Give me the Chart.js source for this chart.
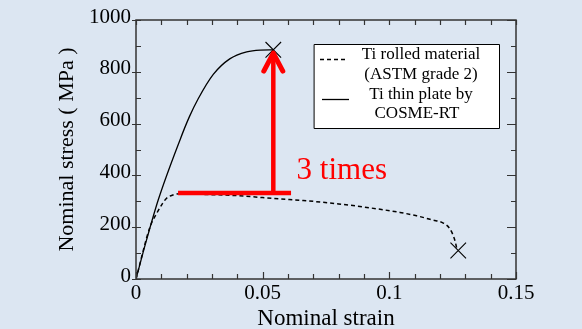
<!DOCTYPE html>
<html>
<head>
<meta charset="utf-8">
<script src="https://cdn.jsdelivr.net/npm/chart.js@4/dist/chart.umd.min.js"></script>
<style>
  html, body { margin: 0; padding: 0; background: #dce6f2; }
  #wrap { width: 582px; height: 329px; }
</style>
</head>
<body>
<div id="wrap"><canvas id="c" width="582" height="329"></canvas></div>
<script>
// ---- data ----
const rolledStrain = [0, 0.0055, 0.0082, 0.0105, 0.0121, 0.0145, 0.0174, 0.025, 0.0397, 0.0568, 0.066, 0.08, 0.095, 0.1042, 0.1108, 0.117, 0.1213, 0.124, 0.126, 0.1266];
const rolledStress = [0, 200, 254, 292, 312, 324, 329, 327, 322, 309, 303, 290, 271, 257, 244, 228, 216, 192, 145, 118];
const plateStrain = [0, 0.004, 0.0088, 0.0174, 0.021, 0.0245, 0.0305, 0.037, 0.0437, 0.049, 0.0542];
const plateStress = [0, 145, 306, 538, 625, 695, 790, 850, 877, 884, 885];
const fractureStrain = [0.0542, 0.1272];
const fractureStress = [885, 110];
const xTickValues = [0, 0.05, 0.1, 0.15];
const yTickValues = [0, 200, 400, 600, 800, 1000];
const legendLabels = [["Ti rolled material", "(ASTM grade 2)"], ["Ti thin plate by", "COSME-RT"]];
// annotation: "3 times" arrow
const baseStress = 332;
const baseStrainRange = [0.0166, 0.0612];
const arrowStrain = 0.0542;
const arrowTipStress = 880;
const noteText = "3 times";
const noteStrain = 0.0634;
const noteStress = 387;

const toXY = (xs, ys) => xs.map((x, i) => ({ x: x, y: ys[i] }));
const SERIF = "'Liberation Serif', 'Times New Roman', serif";

const framePlugin = {
  id: 'frame',
  afterDatasetsDraw(chart) {
    const ctx = chart.ctx;
    const a = chart.chartArea;
    const xs = chart.scales.x, ys = chart.scales.y;
    ctx.save();
    // frame
    ctx.strokeStyle = '#333';
    ctx.lineWidth = 1.5;
    ctx.strokeRect(a.left, a.top, a.right - a.left, a.bottom - a.top);
    // x ticks
    ctx.lineWidth = 1.2;
    for (let i = 0; i <= 15; i++) {
      const v = i / 100;
      const px = Math.round(xs.getPixelForValue(v)) + 0.5;
      const len = (i % 5 === 0) ? 7 : 5;
      ctx.beginPath();
      ctx.moveTo(px, a.bottom); ctx.lineTo(px, a.bottom - len);
      ctx.moveTo(px, a.top); ctx.lineTo(px, a.top + 5);
      ctx.stroke();
    }
    // y ticks
    for (let i = 0; i <= 10; i++) {
      const v = i * 100;
      const py = Math.round(ys.getPixelForValue(v)) + 0.5;
      const major = i % 2 === 0;
      ctx.beginPath();
      if (major) { ctx.moveTo(a.left - 4, py); ctx.lineTo(a.left + 5, py); }
      else { ctx.moveTo(a.left, py); ctx.lineTo(a.left + 5, py); }
      ctx.moveTo(a.right, py); ctx.lineTo(a.right - (major ? 9 : 5), py);
      ctx.stroke();
    }
    // red annotation
    ctx.strokeStyle = '#ff0000';
    ctx.fillStyle = '#ff0000';
    ctx.lineWidth = 4.5;
    const yb = ys.getPixelForValue(baseStress);
    ctx.beginPath();
    ctx.moveTo(xs.getPixelForValue(baseStrainRange[0]), yb);
    ctx.lineTo(xs.getPixelForValue(baseStrainRange[1]), yb);
    ctx.stroke();
    const ax = xs.getPixelForValue(arrowStrain);
    const tip = ys.getPixelForValue(arrowTipStress);
    ctx.beginPath();
    ctx.moveTo(ax, yb);
    ctx.lineTo(ax, tip + 3);
    ctx.stroke();
    ctx.lineCap = 'round';
    ctx.lineJoin = 'round';
    ctx.lineWidth = 5;
    ctx.beginPath();
    ctx.moveTo(ax - 9.5, tip + 20);
    ctx.lineTo(ax, tip + 2);
    ctx.lineTo(ax + 9.5, tip + 20);
    ctx.stroke();
    ctx.font = '31px ' + SERIF;
    ctx.textAlign = 'left';
    ctx.textBaseline = 'alphabetic';
    ctx.fillText(noteText, xs.getPixelForValue(noteStrain), ys.getPixelForValue(noteStress));
    // legend box
    const lx = a.left + 178, ly = a.top + 24, lw = 185, lh = 84;
    ctx.fillStyle = '#ffffff';
    ctx.fillRect(lx, ly, lw, lh);
    ctx.strokeStyle = '#000';
    ctx.lineWidth = 1;
    ctx.strokeRect(lx + 0.5, ly + 0.5, lw, lh);
    ctx.fillStyle = '#000';
    ctx.font = '17px ' + SERIF;
    ctx.textAlign = 'center';
    ctx.textBaseline = 'middle';
    const cx = lx + 107;
    ctx.fillText(legendLabels[0][0], cx, ly + 11);
    ctx.fillText(legendLabels[0][1], cx, ly + 31);
    ctx.fillText(legendLabels[1][0], cx, ly + 51);
    ctx.fillText(legendLabels[1][1], cx - 4, ly + 70);
    ctx.lineCap = 'butt';
    ctx.lineWidth = 1.3;
    ctx.setLineDash([4, 3]);
    ctx.beginPath();
    ctx.moveTo(lx + 6, ly + 15.5); ctx.lineTo(lx + 34, ly + 15.5);
    ctx.stroke();
    ctx.setLineDash([]);
    ctx.beginPath();
    ctx.moveTo(lx + 8, ly + 55.5); ctx.lineTo(lx + 35, ly + 55.5);
    ctx.stroke();
    ctx.restore();
  }
};

new Chart(document.getElementById('c'), {
  type: 'scatter',
  data: {
    datasets: [
      {
        label: 'fracture',
        data: toXY(fractureStrain, fractureStress),
        pointStyle: 'crossRot',
        pointRadius: 11,
        borderColor: '#000',
        borderWidth: 1.1,
        showLine: false
      },
      {
        label: 'Ti thin plate by COSME-RT',
        data: toXY(plateStrain, plateStress),
        showLine: true,
        borderColor: '#000',
        borderWidth: 1.3,
        pointRadius: 0,
        cubicInterpolationMode: 'monotone'
      },
      {
        label: 'Ti rolled material (ASTM grade 2)',
        data: toXY(rolledStrain, rolledStress),
        showLine: true,
        borderColor: '#000',
        borderWidth: 1.5,
        borderDash: [4, 3],
        pointRadius: 0,
        cubicInterpolationMode: 'monotone'
      }
    ]
  },
  options: {
    responsive: false,
    animation: false,
    devicePixelRatio: 1,
    layout: { padding: { left: 56, top: 20, right: 66, bottom: 0 } },
    plugins: { legend: { display: false }, tooltip: { enabled: false } },
    scales: {
      x: {
        type: 'linear', min: 0, max: 0.15,
        afterBuildTicks: (s) => { s.ticks = xTickValues.map(v => ({ value: v })); },
        afterFit: (s) => { s.height = 50; },
        grid: { display: false, drawTicks: false },
        border: { display: false },
        ticks: {
          color: '#000', padding: 2,
          font: { family: SERIF, size: 21 },
          maxRotation: 0,
          callback: (v) => String(Number(v.toFixed(2)))
        },
        title: {
          display: true, text: 'Nominal strain', color: '#000',
          font: { family: SERIF, size: 23, lineHeight: 1 },
          padding: { top: 0, bottom: -1 }
        }
      },
      y: {
        type: 'linear', min: 0, max: 1000,
        afterBuildTicks: (s) => { s.ticks = yTickValues.map(v => ({ value: v })); },
        afterFit: (s) => { s.width = 80; },
        grid: { display: false, drawTicks: false },
        border: { display: false },
        ticks: {
          color: '#000', padding: 5, labelOffset: -3,
          font: { family: SERIF, size: 21 },
          callback: (v) => String(v)
        },
        title: {
          display: true, text: 'Nominal stress ( MPa )', color: '#000',
          font: { family: SERIF, size: 22, lineHeight: 1 },
          padding: { top: 0, bottom: 0 }
        }
      }
    }
  },
  plugins: [framePlugin]
});
</script>
</body>
</html>
